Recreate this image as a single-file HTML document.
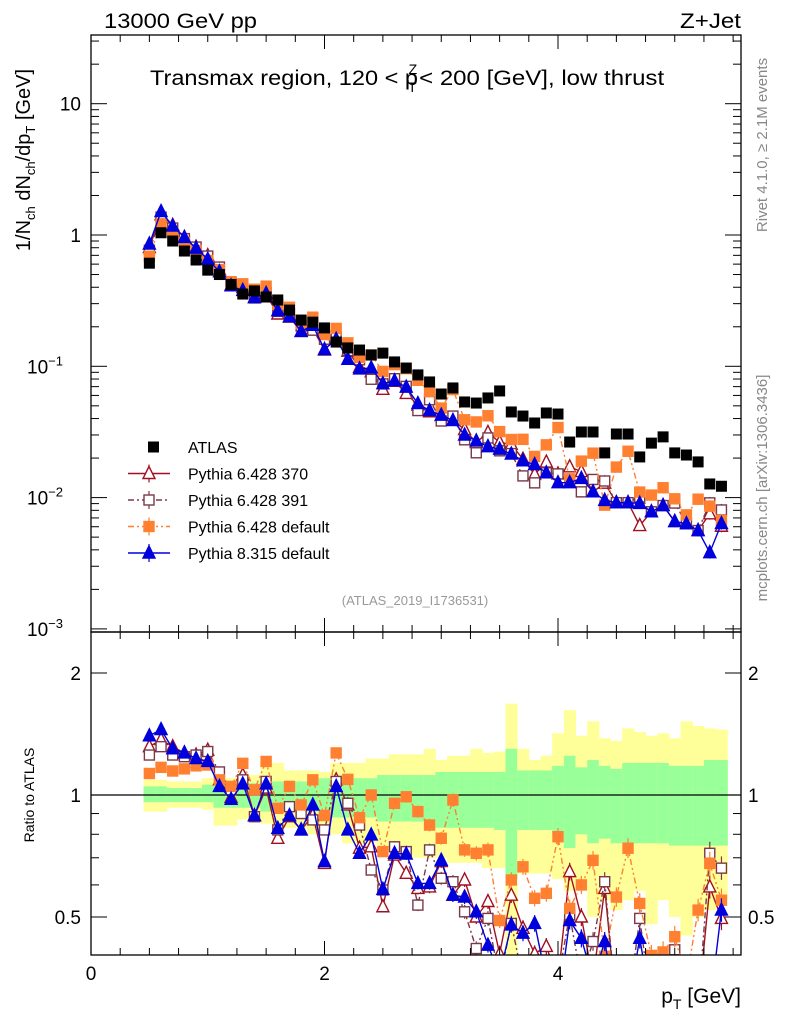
<!DOCTYPE html>
<html><head><meta charset="utf-8"><style>
body{margin:0;background:#fff;}
svg{display:block;font-family:"Liberation Sans",sans-serif;}
</style></head><body>
<svg id="c" width="786" height="1024" viewBox="0 0 786 1024">
<text x="104" y="28" font-size="21" textLength="153" lengthAdjust="spacingAndGlyphs">13000 GeV pp</text>
<text x="680" y="28" font-size="21" textLength="61" lengthAdjust="spacingAndGlyphs">Z+Jet</text>
<text x="150" y="85" font-size="21"><tspan textLength="268" lengthAdjust="spacingAndGlyphs">Transmax region, 120 &lt; p</tspan><tspan font-size="14" dx="-10" dy="7">T</tspan><tspan font-size="14" dx="-8" dy="-18">Z</tspan><tspan dy="11" dx="2" textLength="245" lengthAdjust="spacingAndGlyphs">&lt; 200 [GeV], low thrust</tspan></text>
<text transform="translate(30,160) rotate(-90)" font-size="20" text-anchor="middle">1/N<tspan font-size="13" dy="5">ch</tspan><tspan dy="-5"> dN</tspan><tspan font-size="13" dy="5">ch</tspan><tspan dy="-5">/dp</tspan><tspan font-size="13" dy="5">T</tspan><tspan dy="-5"> [GeV]</tspan></text>
<text transform="translate(34,795) rotate(-90)" font-size="14" text-anchor="middle">Ratio to ATLAS</text>
<text x="741" y="1003" font-size="21" text-anchor="end">p<tspan font-size="14" dy="6">T</tspan><tspan dy="-6"> [GeV]</tspan></text>
<text transform="translate(767,145) rotate(-90)" font-size="15" fill="#888" text-anchor="middle">Rivet 4.1.0, ≥ 2.1M events</text>
<text transform="translate(767,488) rotate(-90)" font-size="15" fill="#888" text-anchor="middle">mcplots.cern.ch [arXiv:1306.3436]</text>
<text x="415" y="605" font-size="13" fill="#999" text-anchor="middle">(ATLAS_2019_I1736531)</text>
<g id="g"></g>
</svg>
<script>
const xs=[0.5,0.6,0.7,0.8,0.9,1.0,1.1,1.2,1.3,1.4,1.5,1.6,1.7,1.8,1.9,2.0,2.1,2.2,2.3,2.4,2.5,2.6,2.7,2.8,2.9,3.0,3.1,3.2,3.3,3.4,3.5,3.6,3.7,3.8,3.9,4.0,4.1,4.2,4.3,4.4,4.5,4.6,4.7,4.8,4.9,5.0,5.1,5.2,5.3,5.4];
const atlas=[0.61,1.04,0.90,0.755,0.645,0.54,0.50,0.42,0.355,0.375,0.337,0.32,0.268,0.225,0.217,0.196,0.153,0.138,0.133,0.122,0.126,0.108,0.097,0.086,0.076,0.0615,0.0684,0.0535,0.0525,0.0574,0.0649,0.0449,0.0418,0.037,0.0441,0.0433,0.0265,0.0316,0.0316,0.0219,0.0305,0.0305,0.0204,0.026,0.029,0.0219,0.0211,0.0187,0.0127,0.0122];
const rBlue=[1.40,1.45,1.30,1.27,1.23,1.21,1.05,0.976,1.065,0.89,1.065,0.827,0.89,0.82,0.945,0.685,1.05,0.82,0.718,0.797,0.585,0.718,0.715,0.605,0.605,0.69,0.566,0.56,0.515,0.426,0.36,0.478,0.456,0.482,0.35,0.30,0.49,0.443,0.35,0.435,0.30,0.30,0.443,0.30,0.30,0.30,0.30,0.30,0.30,0.52];
const rRed=[1.316,1.37,1.316,1.27,1.255,1.29,1.09,0.987,1.12,0.888,1.04,0.782,0.884,0.82,0.89,0.678,1.09,0.945,0.739,0.745,0.53,0.711,0.641,0.588,0.593,0.685,0.566,0.617,0.50,0.546,0.406,0.566,0.469,0.406,0.423,0.35,0.647,0.50,0.35,0.588,0.30,0.30,0.30,0.30,0.30,0.30,0.30,0.30,0.593,0.496];
const rBrown=[1.255,1.316,1.255,1.243,1.255,1.28,1.14,1.03,1.09,0.884,1.08,0.82,0.936,0.90,0.868,0.82,1.08,0.954,0.843,0.653,0.583,0.745,0.725,0.535,0.732,0.623,0.611,0.515,0.418,0.496,0.35,0.482,0.35,0.35,0.35,0.35,0.506,0.35,0.435,0.611,0.30,0.30,0.496,0.30,0.30,0.415,0.30,0.30,0.718,0.66];
const rOrange=[1.13,1.17,1.146,1.16,1.18,1.186,1.09,1.05,1.197,1.03,1.21,0.927,1.05,0.945,1.09,0.89,1.27,1.093,0.879,1.0,0.725,0.954,0.99,0.91,0.843,0.782,0.972,0.732,0.718,0.732,0.49,0.617,0.665,0.556,0.572,0.789,0.525,0.60,0.69,0.40,0.56,0.739,0.54,0.402,0.41,0.447,0.35,0.52,0.678,0.55];
const yelHi=[1.09,1.09,1.08,1.08,1.08,1.10,1.10,1.10,1.12,1.12,1.20,1.20,1.15,1.15,1.15,1.14,1.20,1.20,1.20,1.23,1.23,1.26,1.26,1.26,1.30,1.22,1.25,1.25,1.30,1.27,1.28,1.68,1.30,1.22,1.25,1.42,1.62,1.40,1.52,1.38,1.36,1.46,1.43,1.40,1.42,1.38,1.52,1.48,1.46,1.45];
const yelLo=[0.91,0.91,0.93,0.93,0.93,0.92,0.84,0.84,0.87,0.87,0.85,0.83,0.83,0.83,0.80,0.80,0.80,0.76,0.76,0.76,0.73,0.73,0.73,0.70,0.70,0.70,0.68,0.68,0.68,0.66,0.66,0.40,0.64,0.64,0.64,0.62,0.58,0.60,0.50,0.55,0.52,0.55,0.58,0.48,0.55,0.50,0.45,0.50,0.52,0.55];
const grnHi=[1.05,1.05,1.04,1.04,1.04,1.06,1.07,1.07,1.07,1.07,1.08,1.08,1.08,1.08,1.08,1.10,1.10,1.10,1.10,1.10,1.12,1.12,1.12,1.12,1.12,1.14,1.14,1.14,1.14,1.14,1.14,1.30,1.15,1.15,1.15,1.18,1.25,1.17,1.22,1.18,1.16,1.20,1.20,1.20,1.20,1.18,1.18,1.18,1.22,1.22];
const grnLo=[0.96,0.96,0.96,0.96,0.96,0.96,0.93,0.93,0.93,0.93,0.91,0.91,0.91,0.91,0.91,0.88,0.88,0.88,0.88,0.88,0.86,0.86,0.86,0.86,0.86,0.83,0.83,0.83,0.83,0.83,0.82,0.62,0.82,0.82,0.82,0.80,0.74,0.80,0.76,0.78,0.76,0.76,0.76,0.76,0.76,0.75,0.75,0.75,0.75,0.75];
const xTicks=[0,2,4];
const ratioTicks=[0.5,1,2];

const NS="http://www.w3.org/2000/svg";
const g=document.getElementById('g');
const L=91,R=741,T=35,MB=632,RB=955;
const X=v=>L+v*116.75;
const Y=v=>235-131.3*Math.log10(v);
const RY=r=>795-122*Math.log2(r);
function mk(tag,at,parent){const e=document.createElementNS(NS,tag);for(const k in at)e.setAttribute(k,at[k]);(parent||g).appendChild(e);return e;}

const defs=mk('defs',{});
const c1=mk('clipPath',{id:'cm'},defs);mk('rect',{x:L,y:T,width:R-L,height:MB-T},c1);
const c2=mk('clipPath',{id:'cr'},defs);mk('rect',{x:L,y:MB,width:R-L,height:RB-MB},c2);

const bandG=mk('g',{'clip-path':'url(#cr)'});


xs.forEach((x,i)=>{
  const a=X(x-0.05),b=X(x+0.05);
  const ry=mk('rect',{x:a,y:RY(yelHi[i]),width:b-a+0.5,height:RY(yelLo[i])-RY(yelHi[i]),fill:'#ffff99'},bandG);
  
  
  const rg=mk('rect',{x:a,y:RY(grnHi[i]),width:b-a+0.5,height:RY(grnLo[i])-RY(grnHi[i]),fill:'#99ff99'},bandG);
  
  
});
const one=mk('line',{x1:L,x2:R,y1:RY(1),y2:RY(1),stroke:'#000','stroke-width':1.3});



const series=[
 {name:'pythia-6428-370',r:rRed,col:'#a01020',dash:'',mk:'otri'},
 {name:'pythia-6428-391',r:rBrown,col:'#7a3848',dash:'6,3,2,3',mk:'osq'},
 {name:'pythia-6428-default',r:rOrange,col:'#ff8030',dash:'6,3,2,3,2,3',mk:'fsq'},
 {name:'pythia-8315-default',r:rBlue,col:'#0000dd',dash:'',mk:'ftri'}
];
function marker(type,cx,cy,col,parent,s){
  s=s||6;
  if(type==='otri'||type==='ftri'){
    return mk('polygon',{points:`${cx},${cy-s-1} ${cx-s},${cy+s-1} ${cx+s},${cy+s-1}`,fill:type==='ftri'?col:'#fff',stroke:col,'stroke-width':1.4},parent);
  }
  return mk('rect',{x:cx-s+1,y:cy-s+1,width:2*s-2,height:2*s-2,fill:type==='osq'?'#fff':col,stroke:col,'stroke-width':1.4},parent);
}
function drawSeries(s,main){
  const grp=mk('g',{'clip-path':main?'url(#cm)':'url(#cr)'});
  
  
  const pts=xs.map((x,i)=>[X(x),main?Y(atlas[i]*s.r[i]):RY(s.r[i])]);
  const ln=mk('polyline',{points:pts.map(p=>p.join(',')).join(' '),fill:'none',stroke:s.col,'stroke-width':1.4,'stroke-dasharray':s.dash},grp);
  
  
  pts.forEach((p,i)=>{
    const e=main?(0.002+0.0009*i)*131.3:(0.008+0.0018*i)*122;
    const eb=mk('line',{x1:p[0],x2:p[0],y1:p[1]-e,y2:p[1]+e,stroke:s.col,'stroke-width':1.2},grp);
    
    
    const m=marker(s.mk,p[0],p[1],s.col,grp);
    
    
  });
}
series.forEach(s=>drawSeries(s,false));
const ag=mk('g',{'clip-path':'url(#cm)'});


series.forEach(s=>drawSeries(s,true));
xs.forEach((x,i)=>{
  const r=mk('rect',{x:X(x)-5.5,y:Y(atlas[i])-5.5,width:11,height:11,fill:'#000'},ag);
  
  
});
g.appendChild(ag);

const f1=mk('rect',{x:L,y:T,width:R-L,height:MB-T,fill:'none',stroke:'#000','stroke-width':1.3});


const f2=mk('rect',{x:L,y:MB,width:R-L,height:RB-MB,fill:'none',stroke:'#000','stroke-width':1.3});



for(let v=0;v<=5.75;v+=0.25){
  const maj=Math.abs(v/2-Math.round(v/2))<1e-6;const len=maj?14:7;const x=X(v);
  if(x>R)break;
  [[MB,-1],[T,1],[RB,-1],[MB,1]].forEach(([y,d])=>mk('line',{x1:x,x2:x,y1:y,y2:y+d*len,stroke:'#000','stroke-width':1}));
}
xTicks.forEach(v=>{const t=mk('text',{x:X(v),y:980,'font-size':19,'text-anchor':'middle'});t.textContent=v;

});
for(let d=-3;d<=1;d++){for(let k=1;k<=9;k++){const v=k*Math.pow(10,d);const y=Y(v);if(y<T||y>MB)continue;const len=k===1?16:8;
mk('line',{x1:L,x2:L+len,y1:y,y2:y,stroke:'#000'});mk('line',{x1:R,x2:R-len,y1:y,y2:y,stroke:'#000'});}}
const yl=[[10,'10',''],[1,'1',''],[0.1,'10','−1'],[0.01,'10','−2'],[0.001,'10','−3']];
yl.forEach(([v,b,e])=>{const t=mk('text',{x:e?63:81,y:Y(v)+7,'font-size':19,'text-anchor':'end'});t.textContent=b;
if(e){const s=mk('tspan',{'font-size':13,dy:-8},t);s.textContent=e;}

});
[0.4,0.5,0.6,0.7,0.8,0.9,1,2].forEach(v=>{const y=RY(v);if(y<MB||y>RB)return;const len=(v===0.5||v===1||v===2)?16:8;
mk('line',{x1:L,x2:L+len,y1:y,y2:y,stroke:'#000'});mk('line',{x1:R,x2:R-len,y1:y,y2:y,stroke:'#000'});});
ratioTicks.forEach(v=>{
  const t=mk('text',{x:81,y:RY(v)+7,'font-size':19,'text-anchor':'end'});t.textContent=v;
  
  
  const t2=mk('text',{x:748,y:RY(v)+7,'font-size':19});t2.textContent=v;
  
  
});

const lg=mk('g',{});


const ents=[{label:'ATLAS',mk:'atlas'}].concat(series.map((s,i)=>({label:['Pythia 6.428 370','Pythia 6.428 391','Pythia 6.428 default','Pythia 8.315 default'][i],s})));
ents.forEach((e,i)=>{
  const y=447+i*26.5;
  const eg=mk('g',{},lg);
  
  
  if(e.mk==='atlas'){mk('rect',{x:148,y:y-5.5,width:11,height:11,fill:'#000'},eg);}
  else{mk('line',{x1:128,x2:170,y1:y,y2:y,stroke:e.s.col,'stroke-width':1.4,'stroke-dasharray':e.s.dash},eg);
    mk('line',{x1:149,x2:149,y1:y-9,y2:y+9,stroke:e.s.col,'stroke-width':1.2},eg);
    marker(e.s.mk,149,y,e.s.col,eg);}
  const t=mk('text',{x:188,y:y+6,'font-size':16},eg);t.textContent=e.label;
});
</script>
</body></html>
